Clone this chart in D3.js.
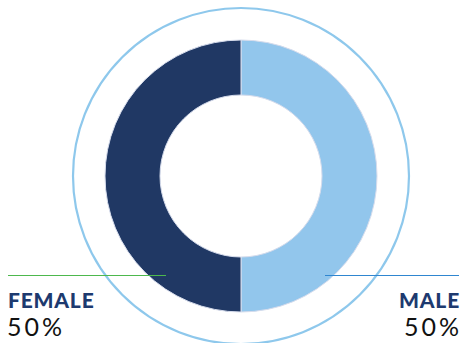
<!DOCTYPE html>
<html><head><meta charset="utf-8">
<script src="https://cdn.jsdelivr.net/npm/d3@7/dist/d3.min.js"></script>
<style>html,body{margin:0;padding:0;background:#fff;}svg{display:block;}</style>
</head><body>
<svg id="c" width="463" height="343"></svg>
<script>
const categories = ["MALE", "FEMALE"];
const values = [50, 50];
const colors = ["#92c6ec", "#203864"];

const svg = d3.select("#c");
const cx = 241, cy = 176;
const g = svg.append("g").attr("transform", `translate(${cx},${cy})`);

const pie = d3.pie().sort(null).value(d => d);
const arc = d3.arc().innerRadius(81).outerRadius(136);

g.selectAll("path.slice").data(pie(values)).join("path")
  .attr("class","slice")
  .attr("d", arc)
  .attr("fill", (d,i) => colors[i])
  .attr("stroke", "#d6dcec").attr("stroke-width", 1);

g.append("circle").attr("r", 168).attr("fill","none")
  .attr("stroke","#8ec8ec").attr("stroke-width", 2.2);

// leader lines
svg.append("line").attr("x1",8).attr("x2",166).attr("y1",275.5).attr("y2",275.5)
  .attr("stroke","#4db84d").attr("stroke-width",1);
svg.append("line").attr("x1",325).attr("x2",459).attr("y1",275.5).attr("y2",275.5)
  .attr("stroke","#2f86d0").attr("stroke-width",1);

const pct = v => d3.format(".0f")(v / d3.sum(values) * 100) + "%";

// labels
svg.append("text").attr("x",8).attr("y",307.5).text(categories[1])
  .attr("font-family","Lato").attr("font-weight",900).attr("font-size",21)
  .attr("letter-spacing",0.8).attr("fill","#1d3a6f");
svg.append("text").attr("x",7).attr("y",335.5).text(pct(values[1]))
  .attr("font-family","Lato").attr("font-weight",400).attr("font-size",25)
  .attr("letter-spacing",3).attr("fill","#111");
svg.append("text").attr("x",460).attr("y",307.5).attr("text-anchor","end").text(categories[0])
  .attr("font-family","Lato").attr("font-weight",900).attr("font-size",21)
  .attr("letter-spacing",0.8).attr("fill","#1d3a6f");
svg.append("text").attr("x",462).attr("y",335.5).attr("text-anchor","end").text(pct(values[0]))
  .attr("font-family","Lato").attr("font-weight",400).attr("font-size",25)
  .attr("letter-spacing",3).attr("fill","#111");
</script>
</body></html>
